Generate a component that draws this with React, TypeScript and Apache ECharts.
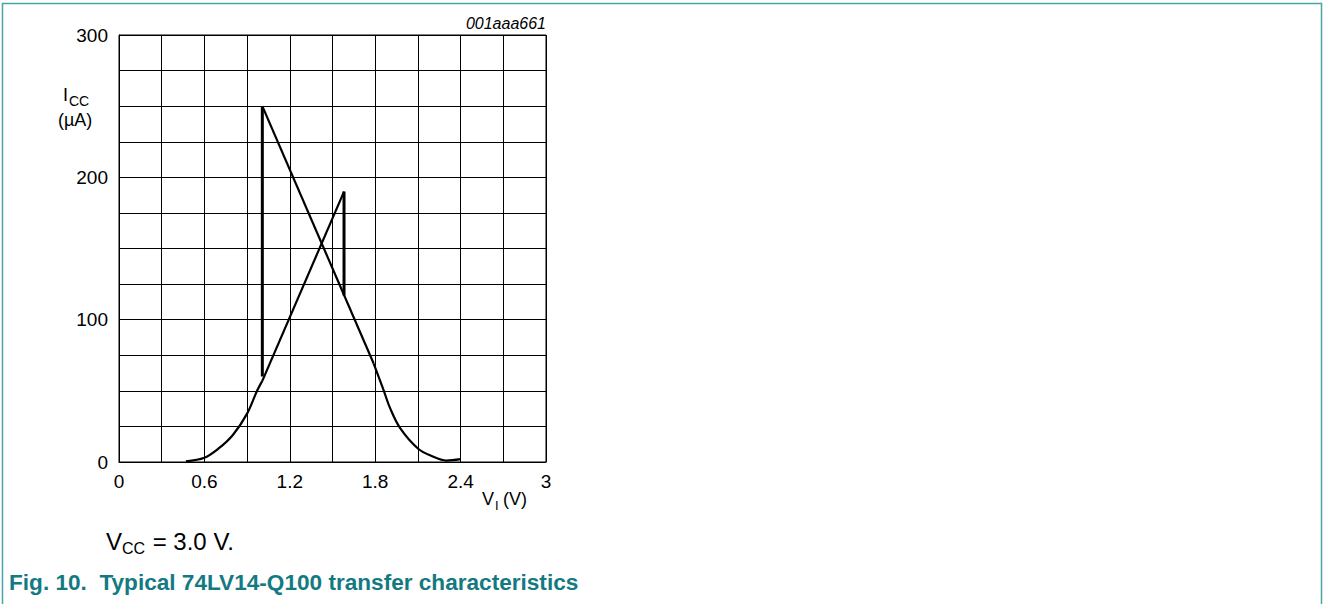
import React, { useEffect, useRef } from "react";
import * as echarts from "echarts";

// Rising-input branch (V_I in V, I_CC in µA)
const riseCurve: number[][] = [
  [0.47, 0.5], [0.6, 3], [0.7, 9.5], [0.8, 19], [0.9, 34], [0.97, 50], [1.007, 57],
];
const riseLine: number[][] = [[1.007, 57], [1.581, 190]];
const riseJump: number[][] = [[1.581, 190], [1.581, 117]];

// Falling-input branch
const fallJump: number[][] = [[1.007, 250], [1.007, 60]];
const fallLine: number[][] = [[1.007, 250], [1.79, 69]];
const fallCurve: number[][] = [
  [1.79, 69], [1.857, 51], [1.904, 38], [1.974, 24], [2.1, 9.5], [2.2, 4], [2.3, 1], [2.4, 2],
];

const xLabelValues = [0, 0.6, 1.2, 1.8, 2.4, 3];
const yLabelValues = [0, 100, 200, 300];

const FONT = "'Liberation Sans', Arial, Helvetica, sans-serif";
const TEAL = "#137a82";

export default function App() {
  const ref = useRef<HTMLDivElement>(null);
  useEffect(() => {
    if (!ref.current) return;
    const chart = echarts.init(ref.current, undefined, { renderer: "svg" });
    const lineSeries = (data: number[][], width: number, smooth: number | boolean) => ({
      type: "line",
      data,
      smooth,
      symbol: "none",
      lineStyle: { color: "#000", width },
      silent: true,
    });
    const txt = (x: number, y: number, text: string, font: string, fill = "#000", align = "left") => ({
      type: "text",
      x,
      y,
      silent: true,
      style: { text, font, fill, textAlign: align, textVerticalAlign: "middle" },
    });
    chart.setOption({
      animation: false,
      grid: {
        left: 119, right: 777, top: 35, bottom: 142,
        show: true, borderColor: "#000", borderWidth: 1,
      },
      xAxis: {
        type: "value",
        min: 0, max: 3, interval: 0.3,
        axisLine: { show: true, lineStyle: { color: "#000", width: 1 } },
        axisTick: { show: false },
        splitLine: { show: true, lineStyle: { color: "#000", width: 1 } },
        axisLabel: {
          margin: 10,
          color: "#000",
          fontSize: 19,
          fontFamily: FONT,
          formatter: (v: number) => {
            const hit = xLabelValues.find((t) => Math.abs(t - v) < 1e-6);
            return hit === undefined ? "" : String(hit);
          },
        },
      },
      yAxis: {
        type: "value",
        min: 0, max: 300, interval: 25,
        axisLine: { show: true, lineStyle: { color: "#000", width: 1 } },
        axisTick: { show: false },
        splitLine: { show: true, lineStyle: { color: "#000", width: 1 } },
        axisLabel: {
          margin: 11,
          color: "#000",
          fontSize: 19,
          fontFamily: FONT,
          formatter: (v: number) => (yLabelValues.includes(v) ? String(v) : ""),
        },
      },
      series: [
        lineSeries(riseCurve, 2.2, 0.35),
        lineSeries(riseLine, 2.2, false),
        lineSeries(riseJump, 3, false),
        lineSeries(fallJump, 3, false),
        lineSeries(fallLine, 2.2, false),
        lineSeries(fallCurve, 2.2, 0.35),
      ],
      graphic: [
        {
          type: "polyline",
          silent: true,
          shape: { points: [[2.5, 604], [2.5, 3.5], [1321.5, 3.5], [1321.5, 604]] },
          style: { stroke: "#4aa3a9", lineWidth: 1.5, fill: "none" },
        },
        txt(546, 23, "001aaa661", `italic 16px ${FONT}`, "#000", "right"),
        txt(63, 95, "I", `18px ${FONT}`),
        txt(69, 101, "CC", `14px ${FONT}`),
        txt(58, 120, "(µA)", `18px ${FONT}`),
        txt(482, 499, "V", `18px ${FONT}`),
        txt(495, 505, "I", `13px ${FONT}`),
        txt(503, 499, "(V)", `18px ${FONT}`),
        txt(106, 541, "V", `24px ${FONT}`),
        txt(122, 548, "CC", `16px ${FONT}`),
        txt(146, 541, " = 3.0 V.", `24px ${FONT}`),
        txt(9, 582, "Fig. 10.  Typical 74LV14-Q100 transfer characteristics", `bold 22.6px ${FONT}`, TEAL),
      ],
    });
    return () => chart.dispose();
  }, []);
  return (
    <div
      ref={ref}
      style={{ position: "fixed", left: 0, top: 0, width: 1323, height: 604, background: "#fff" }}
    />
  );
}
